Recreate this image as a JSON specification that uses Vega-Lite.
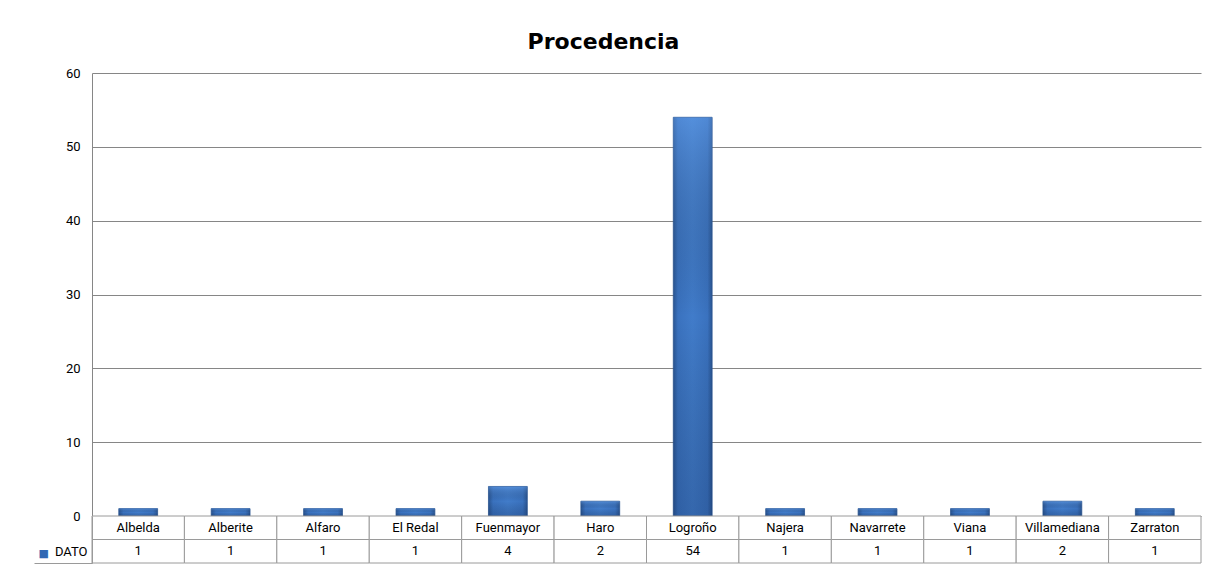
{
  "$schema": "https://vega.github.io/schema/vega-lite/v6.json",
  "autosize": {"type": "pad"},
  "padding": {"left": 33, "top": 31, "right": 16, "bottom": 4},
  "background": "white",
  "bounds": "flush",
  "spacing": 0,
  "title": {"text": "Procedencia", "font": "DejaVu Sans", "fontSize": 22, "fontWeight": "bold", "color": "#000000", "anchor": "middle", "dx": -14, "offset": 13},
  "datasets": {
    "proc": [
      {"lugar": "Albelda", "dato": 1},
      {"lugar": "Alberite", "dato": 1},
      {"lugar": "Alfaro", "dato": 1},
      {"lugar": "El Redal", "dato": 1},
      {"lugar": "Fuenmayor", "dato": 4},
      {"lugar": "Haro", "dato": 2},
      {"lugar": "Logroño", "dato": 54},
      {"lugar": "Najera", "dato": 1},
      {"lugar": "Navarrete", "dato": 1},
      {"lugar": "Viana", "dato": 1},
      {"lugar": "Villamediana", "dato": 2},
      {"lugar": "Zarraton", "dato": 1}
    ]
  },
  "config": {"view": {"stroke": null}},
  "resolve": {"scale": {"x": "independent", "y": "independent"}},
  "vconcat": [
    {
      "width": 1109,
      "height": 443,
      "data": {"name": "proc"},
      "encoding": {
        "x": {"field": "lugar", "type": "nominal", "sort": null, "axis": null,
              "scale": {"paddingInner": 0.58, "paddingOuter": 0.29}},
        "y": {"field": "dato", "type": "quantitative",
              "scale": {"domain": [0, 60], "nice": false},
              "axis": {"title": null, "values": [0, 10, 20, 30, 40, 50, 60], "grid": true, "gridColor": "#868686", "gridOpacity": 1, "gridWidth": 1,
                       "domain": true, "domainColor": "#868686", "ticks": false, "labelPadding": 12,
                       "labelFont": "Roboto", "labelFontSize": 13, "labelColor": "#000000"}}
      },
      "layer": [
        {"mark": {"type": "bar", "stroke": "#2b5692", "strokeWidth": 0.8,
                  "fill": {"gradient": "linear", "x1": 0, "x2": 1, "y1": 0, "y2": 0,
                           "stops": [{"offset": 0, "color": "#2a5694"}, {"offset": 0.12, "color": "#3a72bf"}, {"offset": 0.5, "color": "#417cca"}, {"offset": 0.88, "color": "#3a72bf"}, {"offset": 1, "color": "#2a5694"}]}}},
        {"mark": {"type": "bar",
                  "fill": {"gradient": "linear", "x1": 0, "x2": 0, "y1": 0, "y2": 1,
                           "stops": [{"offset": 0, "color": "rgba(120,180,255,0.35)"}, {"offset": 0.5, "color": "rgba(0,0,0,0)"}, {"offset": 1, "color": "rgba(10,30,70,0.22)"}]}}}
      ]
    },
    {
      "width": 1109,
      "height": 47,
      "data": {"name": "proc"},
      "layer": [
        {"mark": {"type": "rect", "fill": "white", "stroke": "#9a9a9a", "strokeWidth": 1},
         "encoding": {
           "x": {"field": "lugar", "type": "nominal", "sort": null, "axis": null, "scale": {"paddingInner": 0, "paddingOuter": 0}},
           "y": {"datum": "cat", "type": "nominal", "scale": {"domain": ["cat", "val"], "paddingInner": 0, "paddingOuter": 0},
                 "axis": {"title": "■", "titleAngle": 0, "titleColor": "#2f68b4", "titleFont": "DejaVu Sans", "titleFontSize": 11, "titleFontWeight": "normal", "titleX": -54, "titleY": 40, "titleAlign": "left", "titleBaseline": "alphabetic",
                          "labelExpr": "datum.value == 'val' ? 'DATO' : ''", "labelFont": "Roboto", "labelFontSize": 13, "labelColor": "#000000", "labelPadding": -53,
                          "tickBand": "extent", "tickSize": 58, "tickColor": {"condition": {"test": "datum.value == 'val'", "value": "#9a9a9a"}, "value": "rgba(0,0,0,0)"},
                          "domainColor": "#9a9a9a"}}
         }},
        {"mark": {"type": "rect", "fill": "white", "stroke": "#9a9a9a", "strokeWidth": 1},
         "encoding": {
           "x": {"field": "lugar", "type": "nominal", "sort": null},
           "y": {"datum": "val", "type": "nominal"}
         }},
        {"mark": {"type": "text", "font": "Roboto", "fontSize": 13, "color": "#000000"},
         "encoding": {
           "x": {"field": "lugar", "type": "nominal", "sort": null},
           "y": {"datum": "cat", "type": "nominal"},
           "text": {"field": "lugar"}
         }},
        {"mark": {"type": "text", "font": "Roboto", "fontSize": 13, "color": "#000000"},
         "encoding": {
           "x": {"field": "lugar", "type": "nominal", "sort": null},
           "y": {"datum": "val", "type": "nominal"},
           "text": {"field": "dato"}
         }}
      ]
    }
  ]
}
